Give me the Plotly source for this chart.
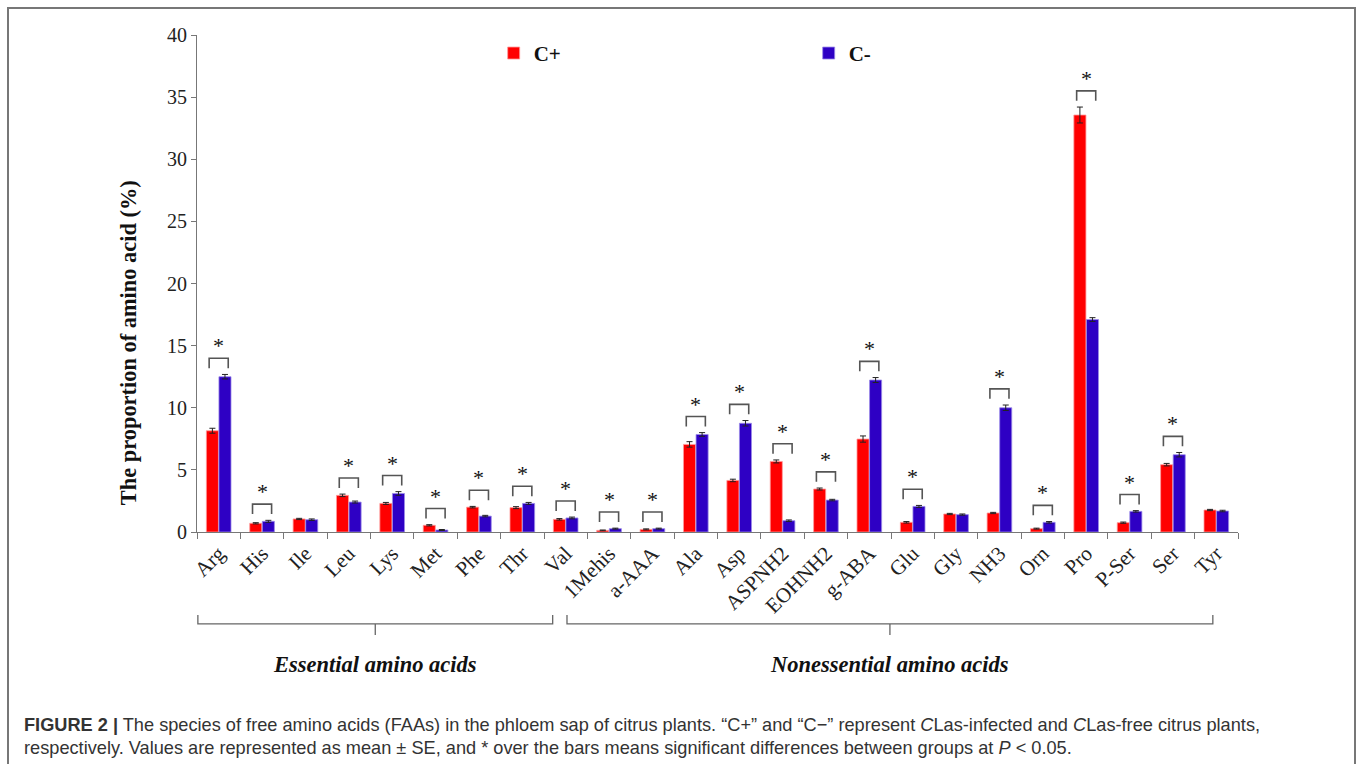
import plotly.graph_objects as go

# Free amino acids in phloem sap (%), mean and SE
amino_acids = ["Arg", "His", "Ile", "Leu", "Lys", "Met", "Phe", "Thr", "Val",
               "1Mehis", "a-AAA", "Ala", "Asp", "ASPNH2", "EOHNH2", "g-ABA", "Glu",
               "Gly", "NH3", "Orn", "Pro", "P-Ser", "Ser", "Tyr"]
c_plus = [8.15, 0.70, 1.05, 2.95, 2.30, 0.54, 2.00, 1.96, 1.02,
          0.13, 0.21, 7.05, 4.15, 5.68, 3.46, 7.48, 0.78,
          1.45, 1.53, 0.27, 33.56, 0.75, 5.42, 1.77]
c_minus = [12.50, 0.86, 0.99, 2.41, 3.10, 0.16, 1.28, 2.30, 1.13,
           0.27, 0.27, 7.85, 8.75, 0.91, 2.57, 12.23, 2.06,
           1.40, 10.00, 0.78, 17.10, 1.66, 6.22, 1.69]
se_plus = [0.20, 0.05, 0.05, 0.10, 0.08, 0.05, 0.06, 0.08, 0.06,
           0.03, 0.04, 0.22, 0.10, 0.12, 0.08, 0.25, 0.06,
           0.05, 0.05, 0.04, 0.64, 0.05, 0.10, 0.05]
se_minus = [0.18, 0.08, 0.06, 0.08, 0.15, 0.04, 0.06, 0.08, 0.07,
            0.04, 0.04, 0.15, 0.22, 0.06, 0.06, 0.20, 0.08,
            0.05, 0.22, 0.06, 0.15, 0.06, 0.18, 0.06]
significant = [1, 1, 0, 1, 1, 1, 1, 1, 1,
               1, 1, 1, 1, 1, 1, 1, 1,
               0, 1, 1, 1, 1, 1, 0]
y_ticks = [0, 5, 10, 15, 20, 25, 30, 35, 40]
groups = ["Essential amino acids", "Nonessential amino acids"]

RED = "#FF0000"
BLUE = "#2E00C4"
SERIF = "Liberation Serif, Times New Roman, serif"
SANS = "Liberation Sans, Arial, Helvetica, sans-serif"

fig = go.Figure()
fig.add_trace(go.Bar(
    x=amino_acids, y=c_plus, name="<b>C+</b>",
    marker=dict(color=RED, line=dict(color="#FF9A9A", width=0.8)),
    error_y=dict(type="data", array=se_plus, color="#222", thickness=1, width=3),
))
fig.add_trace(go.Bar(
    x=amino_acids, y=c_minus, name="<b>C-</b>",
    marker=dict(color=BLUE, line=dict(color="#9C8BE8", width=0.8)),
    error_y=dict(type="data", array=se_minus, color="#222", thickness=1, width=3),
))

# significance brackets with asterisks over each pair
shapes = []
annotations = []
for i, sig in enumerate(significant):
    if not sig:
        continue
    top = max(c_plus[i] + se_plus[i], c_minus[i] + se_minus[i]) + 1.3
    leg = top - 0.8
    shapes.append(dict(
        type="path", xref="x", yref="y",
        path=f"M {i - 0.22},{leg} L {i - 0.22},{top} L {i + 0.22},{top} L {i + 0.22},{leg}",
        line=dict(color="#555", width=1.6),
    ))
    annotations.append(dict(
        x=i, y=top + 1.0, xref="x", yref="y", text="*", showarrow=False,
        font=dict(family=SERIF, size=22, color="#111"), yanchor="middle",
    ))

# group braces beneath the category labels
spans = [(-0.48, 7.70), (8.03, 22.92)]
y_line, y_leg, y_tip = -0.185, -0.167, -0.207
for (x0, x1), label in zip(spans, groups):
    mid = (x0 + x1) / 2
    shapes.append(dict(
        type="path", xref="x", yref="paper",
        path=f"M {x0},{y_leg} L {x0},{y_line} L {x1},{y_line} L {x1},{y_leg}",
        line=dict(color="#666", width=1.3),
    ))
    shapes.append(dict(
        type="line", xref="x", yref="paper", x0=mid, x1=mid, y0=y_line, y1=y_tip,
        line=dict(color="#666", width=1.3),
    ))
    annotations.append(dict(
        x=mid, y=-0.2656, xref="x", yref="paper", text=f"<b><i>{label}</i></b>",
        showarrow=False, font=dict(family=SERIF, size=22.5, color="#111"),
        xanchor="center", yanchor="middle",
    ))

# y axis title
annotations.append(dict(
    x=-0.0663, y=0.382, xref="paper", yref="paper",
    text="<b>The proportion of amino acid (%)</b>", textangle=-90, showarrow=False,
    font=dict(family=SERIF, size=22.4, color="#111"), xanchor="center", yanchor="middle",
))

# figure caption
cap1 = ("<b>FIGURE 2 |</b> The species of free amino acids (FAAs) in the phloem sap of citrus plants. "
        "\u201cC+\u201d and \u201cC\u2212\u201d represent <i>C</i>Las-infected and <i>C</i>Las-free citrus plants,")
cap2 = ("respectively. Values are represented as mean \u00b1 SE, and * over the bars means significant "
        "differences between groups at <i>P</i> &lt; 0.05.")
for txt, ypx in [(cap1, 725), (cap2, 748)]:
    annotations.append(dict(
        x=(22 - 197) / 1041, y=(532 - ypx) / 497, xref="paper", yref="paper",
        text=txt, showarrow=False, xanchor="left", yanchor="middle",
        font=dict(family=SANS, size=18.2, color="#333"),
    ))

# outer frame
shapes.append(dict(
    type="rect", xref="paper", yref="paper",
    x0=(8 - 197) / 1041, x1=(1355 - 197) / 1041,
    y0=(532 - 780) / 497, y1=(532 - 8) / 497,
    line=dict(color="#777", width=2), layer="below",
))

fig.update_layout(
    width=1358, height=764,
    margin=dict(l=197, r=120, t=35, b=232),
    paper_bgcolor="white", plot_bgcolor="white",
    barmode="group", bargap=0.42, bargroupgap=0.04,
    font=dict(family=SERIF, color="#222"),
    showlegend=True,
    legend=dict(
        orientation="h", x=0.285, y=0.963, xanchor="left", yanchor="middle",
        font=dict(family=SERIF, size=21, color="#111"),
        entrywidth=270, entrywidthmode="pixels",
        itemwidth=30, bgcolor="rgba(0,0,0,0)",
    ),
    shapes=shapes, annotations=annotations,
)
fig.update_xaxes(
    type="category", tickson="boundaries", ticks="outside", ticklen=6,
    tickcolor="#777", showline=True, linecolor="#777", linewidth=1,
    tickangle=-45, tickfont=dict(family=SERIF, size=21, color="#222"),
    showgrid=False, range=[-0.5, 23.5],
)
fig.update_yaxes(
    range=[0, 40], tickvals=y_ticks, ticks="outside", ticklen=5,
    tickcolor="#777", showline=True, linecolor="#777", linewidth=1,
    tickfont=dict(family=SERIF, size=20, color="#222"),
    showgrid=False, zeroline=False,
)

fig.write_html("out.html")
